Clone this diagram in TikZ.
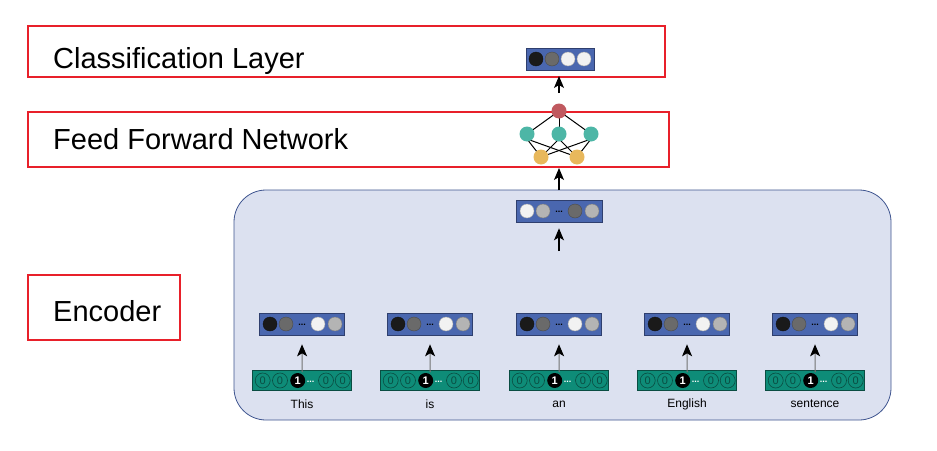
\documentclass[tikz,border=0pt]{standalone}
\usepackage{fontspec}
\setmainfont{Liberation Sans}
\usetikzlibrary{arrows.meta}
\definecolor{vblue}{HTML}{4A67AF}
\definecolor{vborder}{HTML}{2F3F6E}
\definecolor{gbox}{HTML}{0E8C78}
\definecolor{gborder}{HTML}{0A4D42}
\definecolor{encbg}{HTML}{DCE1F0}
\definecolor{encborder}{HTML}{3E548F}
\definecolor{redbox}{HTML}{E8202A}
\definecolor{cteal}{HTML}{4DB6A6}
\definecolor{cyellow}{HTML}{E8B85C}
\definecolor{cred}{HTML}{C0595F}
\definecolor{cblack}{HTML}{1A1A1A}
\definecolor{cdark}{HTML}{6A6A6A}
\definecolor{clight}{HTML}{B4B4B4}
\definecolor{cwhite}{HTML}{F2F2F2}
\tikzset{
  lbox/.style={draw=redbox, line width=1.6pt, inner sep=0},
  ltext/.style={font=\fontsize{29}{34}\selectfont, anchor=west, inner sep=0},
  vbox/.style={draw=vborder, fill=vblue, line width=0.6pt, minimum width=85pt, minimum height=22pt, inner sep=0},
  gvec/.style={draw=gborder, fill=gbox, line width=0.6pt, minimum width=99pt, minimum height=20pt, inner sep=0},
  dot/.style={circle, draw=#1!70!black, line width=0.4pt, fill=#1, minimum size=14pt, inner sep=0},
  zero/.style={circle, draw=gborder, line width=0.6pt, minimum size=15pt, inner sep=0, font=\fontsize{11}{11}\selectfont, text=gborder},
  one/.style={circle, fill=black, minimum size=15pt, inner sep=0, font=\fontsize{11}{11}\selectfont\bfseries, text=white},
  ell/.style={font=\fontsize{9}{9}\selectfont\bfseries, text=black, inner sep=0},
  neur/.style={circle, fill=#1, minimum width=15pt, minimum height=13pt, inner sep=0},
  arr/.style={-{Stealth[length=12pt,width=10pt,inset=3pt,color=black]}, line width=1.1pt, black},
  garr/.style={-{Stealth[length=12pt,width=10pt,inset=3pt,color=black]}, line width=1.1pt, black!55},
  wlabel/.style={font=\fontsize{12}{14}\selectfont, inner sep=0},
  edge/.style={line width=1pt, black},
}
\begin{document}
\begin{tikzpicture}[x=1pt,y=-1pt]
\useasboundingbox (0,0) rectangle (937,450);
% label boxes
\node[lbox, minimum width=637pt, minimum height=51pt] (clsbox) at (346.5,51.5) {};
\node[ltext] (clstext) at (53,61.5) {Classification Layer};
\node[lbox, minimum width=641pt, minimum height=55pt] (ffnbox) at (348.5,139.5) {};
\node[ltext] (ffntext) at (53,139) {Feed Forward Network};
% encoder background
\draw[fill=encbg, draw=encborder, line width=0.8pt, rounded corners=32pt] (234,190) rectangle (891,420);
\node[lbox, minimum width=152pt, minimum height=65pt] (encbox) at (104,307.5) {};
\node[ltext] (enctext) at (53,311) {Encoder};
% classification vector
\node[vbox, minimum width=68pt] (clsvec) at (560,59) {};
\foreach \xx/\cc [count=\i] in {536/cblack,552/cdark,568/cwhite,584/cwhite}
  \node[dot=\cc] (cls\i) at (\xx,59) {};
% FFN
\coordinate (pr) at (559,111);
\coordinate (pt1) at (527,134);
\coordinate (pt2) at (559,134);
\coordinate (pt3) at (591,134);
\coordinate (py1) at (541,157);
\coordinate (py2) at (577,157);
\foreach \t in {pt1,pt2,pt3} {
  \draw[edge] (pr) -- (\t);
  \draw[edge] ([yshift=-5pt]\t) -- (py1);
  \draw[edge] ([yshift=-5pt]\t) -- (py2);
}
\node[neur=cred] (nr) at (pr) {};
\node[neur=cteal] (nt1) at (pt1) {};
\node[neur=cteal] (nt2) at (pt2) {};
\node[neur=cteal] (nt3) at (pt3) {};
\node[neur=cyellow] (ny1) at (py1) {};
\node[neur=cyellow] (ny2) at (py2) {};
\coordinate (clsarrs) at (559,93);
\coordinate (clsarre) at (559,76);
\draw[arr] (clsarrs) -- (clsarre);
\coordinate (ffnarrs) at (559,190);
\coordinate (ffnarre) at (559,168);
\draw[arr] (ffnarrs) -- (ffnarre);
% encoder output vector
\node[vbox, minimum width=86pt] (encvec) at (559,211) {};
\node[dot=cwhite] (ev1) at (527,211) {};
\node[dot=clight] (ev2) at (543,211) {};
\node[ell] (ev3) at (559,212) {...};
\node[dot=cdark] (ev4) at (575,211) {};
\node[dot=clight] (ev5) at (592,211) {};
\coordinate (aggin) at (559,251);
\draw[arr] (aggin) -- ([yshift=-6pt]encvec.south);
% word columns
\foreach \cx/\w [count=\k] in {302/This,430/is,559/an,687/English,815/sentence} {
  \node[vbox] (wv\k) at (\cx,324) {};
  \node[dot=cblack] at (\cx-32,324) {};
  \node[dot=cdark] at (\cx-16,324) {};
  \node[ell] at (\cx,325) {...};
  \node[dot=cwhite] at (\cx+16,324) {};
  \node[dot=clight] at (\cx+33,324) {};
  \node[gvec] (gv\k) at (\cx+0.2,380.5) {};
  \node[zero] at (\cx-39.3,380.5) {0};
  \node[zero] at (\cx-22,380.5) {0};
  \node[one] at (\cx-4.3,380.5) {1};
  \node[ell, text=white] at (\cx+8.7,381.5) {...};
  \node[zero] at (\cx+24,380.5) {0};
  \node[zero] at (\cx+40.7,380.5) {0};
  \node[wlabel] (wl\k) at (\cx,404) {\w};
  \draw[garr] ([yshift=-2pt]gv\k.north) -- ([yshift=-9pt]wv\k.south);
}
\end{tikzpicture}
\end{document}
